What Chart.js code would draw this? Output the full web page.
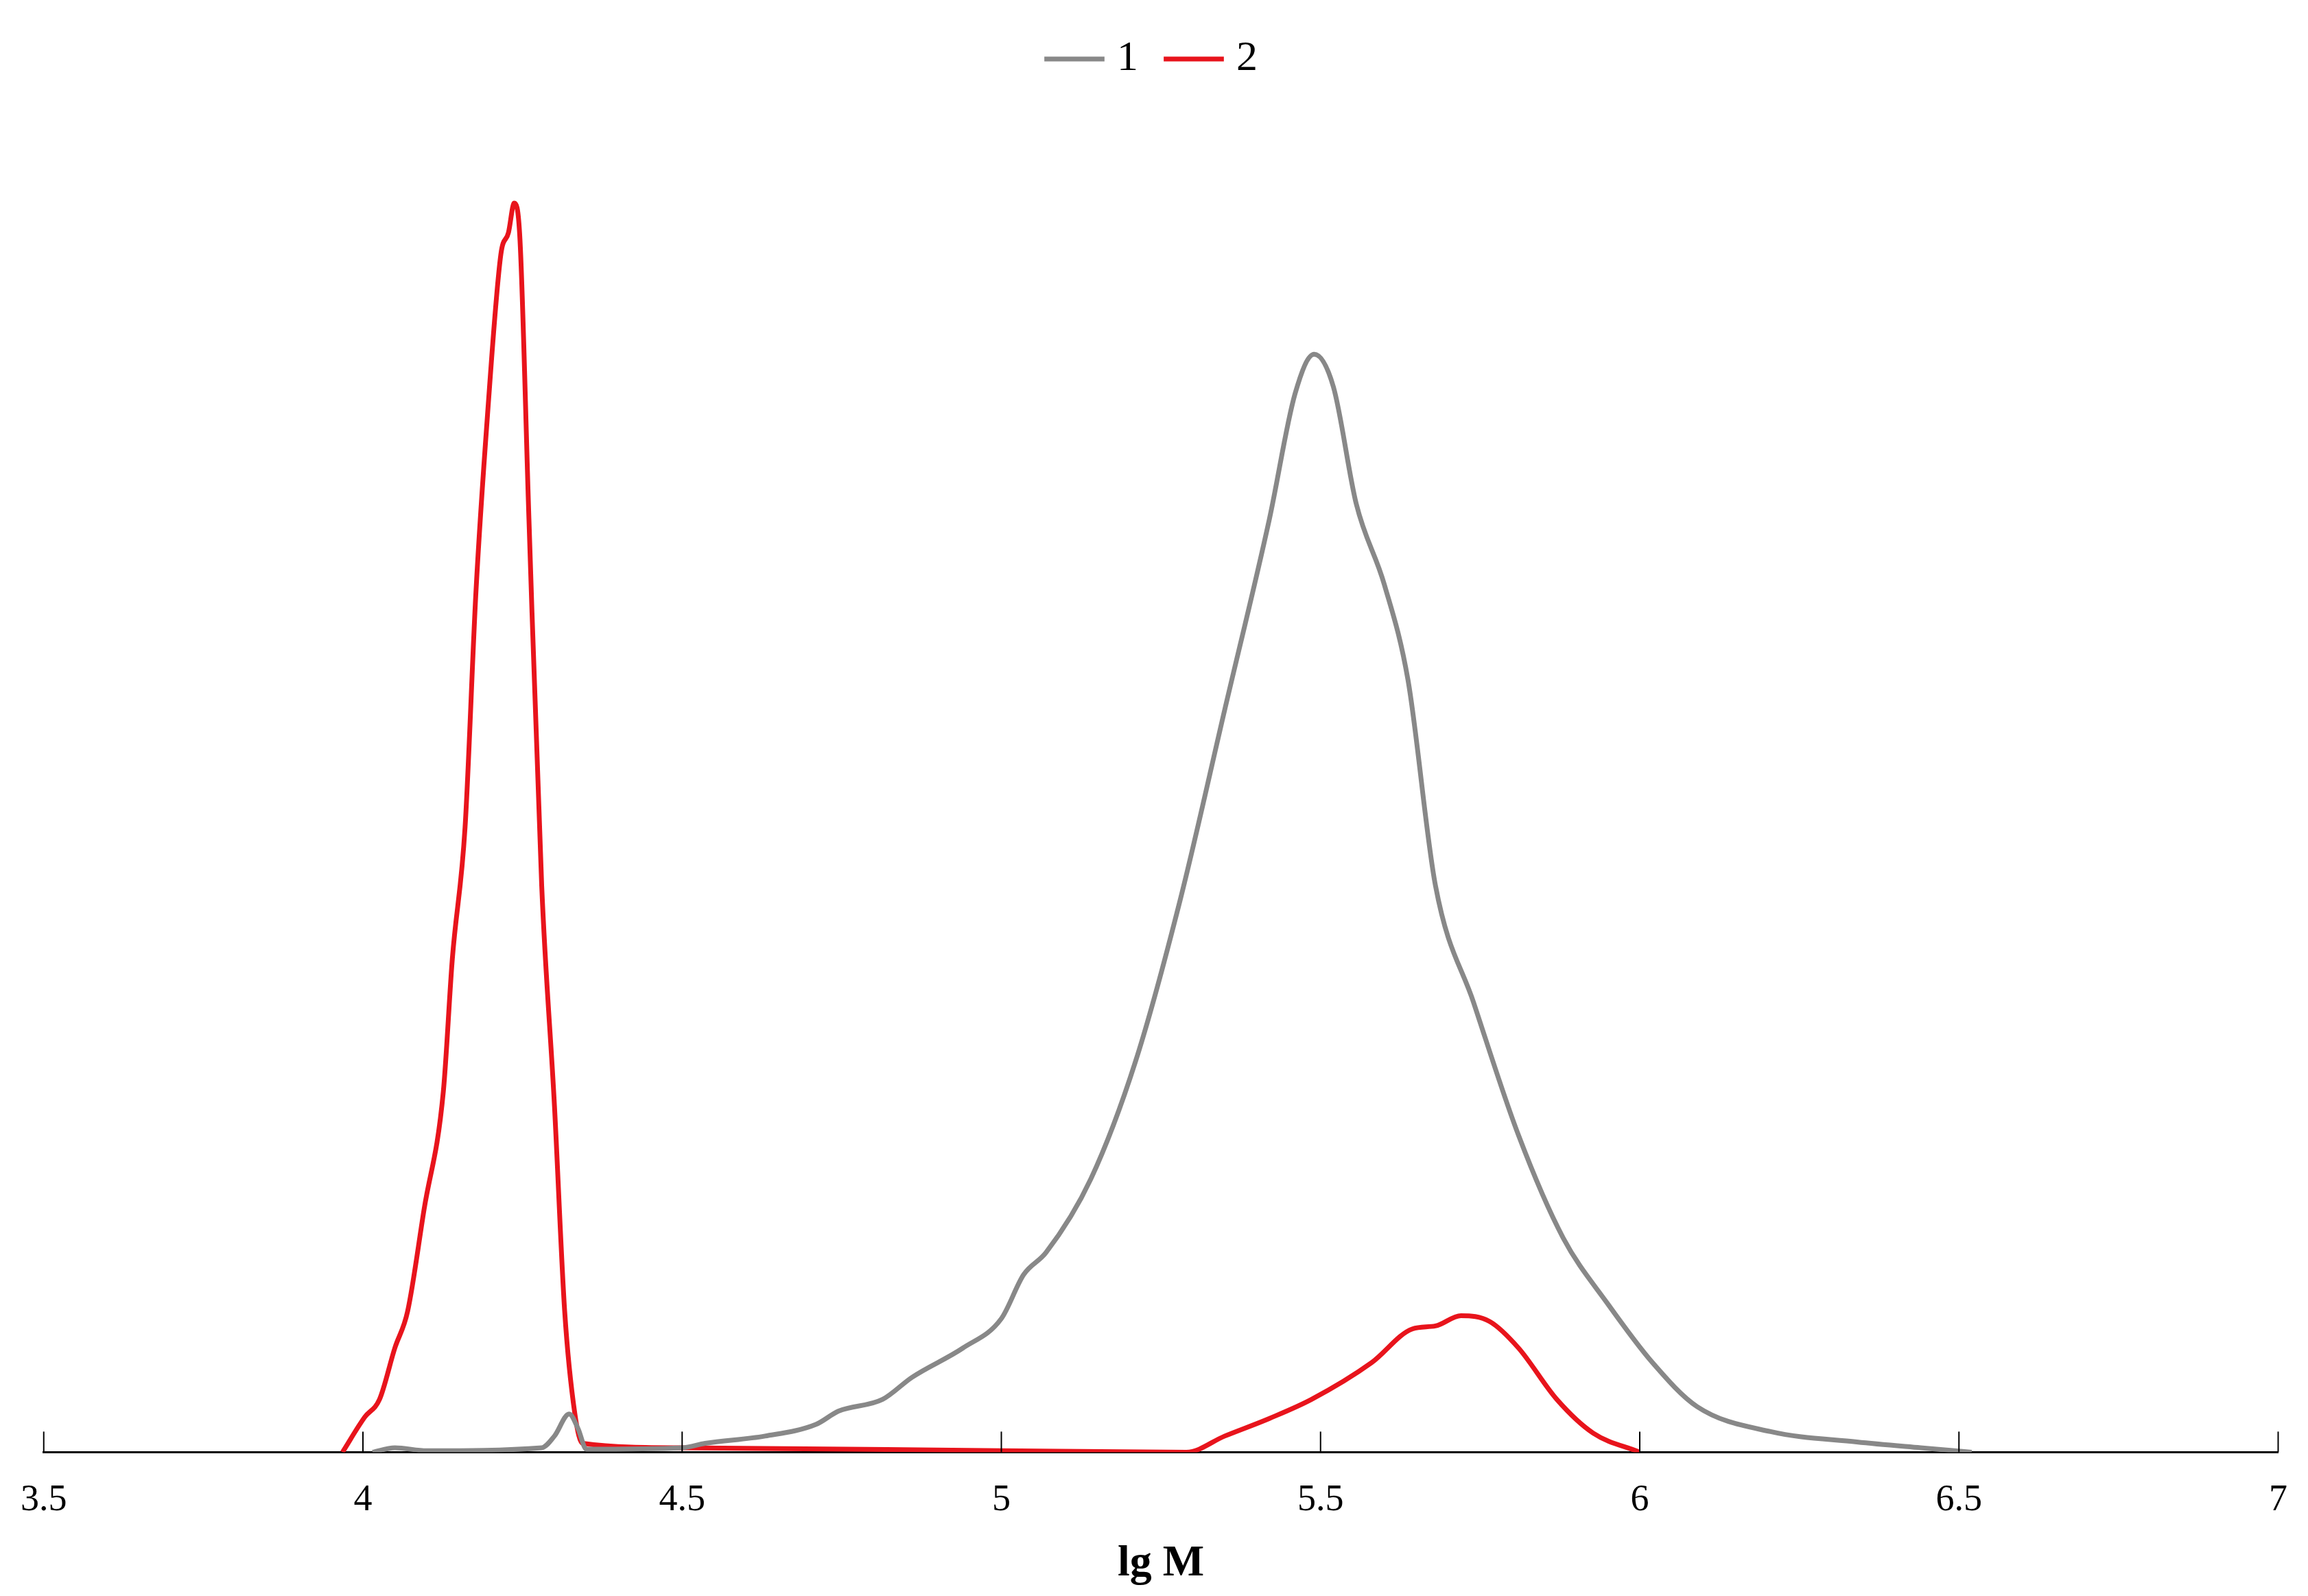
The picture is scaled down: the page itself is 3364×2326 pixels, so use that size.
<!DOCTYPE html>
<html>
<head>
<meta charset="utf-8">
<script src="https://cdn.jsdelivr.net/npm/chart.js@4"></script>
<style>
  html, body { margin: 0; padding: 0; background: #ffffff; }
  #wrap { width: 3364px; height: 2326px; }
</style>
</head>
<body>
<div id="wrap"><canvas id="chart" width="3364" height="2326"></canvas></div>
<script>
// lg M values and relative heights
const series1X = [4.015, 4.05, 4.1, 4.28, 4.30, 4.323, 4.337, 4.35, 4.5, 4.536, 4.63, 4.71, 4.745, 4.814, 4.86, 4.94, 5.0, 5.035, 5.07, 5.14, 5.21, 5.28, 5.35, 5.42, 5.46, 5.49, 5.52, 5.556, 5.60, 5.637, 5.68, 5.74, 5.81, 5.88, 5.95, 6.02, 6.09, 6.205, 6.34, 6.44, 6.52];
const series1Y = [0, 0.3, 0.1, 0.3, 1.1, 2.6, 1.6, 0.2, 0.3, 0.6, 1.1, 1.9, 2.8, 3.6, 5.1, 7.1, 9.1, 12.1, 13.6, 18.6, 26.6, 37.6, 50.6, 63.6, 72.1, 74.8, 72.6, 64.6, 59.1, 52.6, 38.6, 30.6, 21.6, 14.6, 10.1, 6.1, 3.1, 1.4, 0.7, 0.3, 0];
const series2X = [3.968, 4.003, 4.026, 4.05, 4.07, 4.096, 4.126, 4.14, 4.16, 4.177, 4.195, 4.216, 4.228, 4.237, 4.246, 4.26, 4.28, 4.30, 4.316, 4.332, 4.344, 4.5, 5.0, 5.29, 5.35, 5.42, 5.486, 5.58, 5.644, 5.68, 5.72, 5.765, 5.81, 5.87, 5.927, 6.0];
const series2Y = [0, 2.4, 3.6, 7.1, 9.6, 16.6, 24.6, 33.6, 42.6, 58.6, 70.6, 81.6, 83.1, 85.1, 82.6, 63.6, 38.6, 23.6, 9.6, 2.6, 0.6, 0.3, 0.1, 0, 1.1, 2.3, 3.6, 6.1, 8.4, 8.6, 9.3, 8.9, 7.1, 3.6, 1.3, 0];
const seriesNames = ['1', '2'];
const xTicks = [3.5, 4, 4.5, 5, 5.5, 6, 6.5, 7];

const toPoints = (xs, ys) => xs.map((x, i) => ({ x: x, y: ys[i] }));

// short tick marks pointing up from the axis line
const upTicks = {
	id: 'upTicks',
	afterDraw(chart)
	{
		const ctx = chart.ctx;
		const xs = chart.scales.x;
		const base = chart.chartArea.bottom;
		ctx.save();
		ctx.strokeStyle = '#000000';
		ctx.lineWidth = 2;
		xTicks.forEach(v => {
			const px = xs.getPixelForValue(v);
			ctx.beginPath();
			ctx.moveTo(px, base);
			ctx.lineTo(px, base - 30);
			ctx.stroke();
		});
		ctx.restore();
	}
};

new Chart(document.getElementById('chart'), {
	type: 'line',
	data: {
		datasets: [
			{ label: seriesNames[0], data: toPoints(series1X, series1Y), borderColor: '#888888', borderWidth: 7, pointRadius: 0, tension: 0.3, cubicInterpolationMode: 'monotone' },
			{ label: seriesNames[1], data: toPoints(series2X, series2Y), borderColor: '#e8141c', borderWidth: 7, pointRadius: 0, tension: 0.3, cubicInterpolationMode: 'monotone' }
		]
	},
	options: {
		responsive: false,
		animation: false,
		devicePixelRatio: 1,
		layout: { padding: { left: 40, right: 36, top: 5, bottom: 8 } },
		plugins: {
			legend: {
				position: 'top',
				labels: {
					usePointStyle: true,
					pointStyle: 'line',
					boxWidth: 70,
					padding: 50,
					color: '#000000',
					font: { family: 'Liberation Serif', size: 62 }
				}
			},
			tooltip: { enabled: false }
		},
		scales: {
			x: {
				type: 'linear',
				min: 3.5,
				max: 7,
				afterBuildTicks: axis => { axis.ticks = xTicks.map(v => ({ value: v })); },
				grid: { display: false },
				border: { display: true, color: '#000000', width: 3 },
				ticks: { color: '#000000', padding: 30, callback: v => String(v), font: { family: 'Liberation Serif', size: 54 } },
				title: { display: true, text: 'lg M', color: '#000000', padding: { top: -8, bottom: 0 }, font: { family: 'Liberation Serif', size: 64, weight: 'bold' } }
			},
			y: {
				display: false,
				min: 0,
				max: 93
			}
		}
	},
	plugins: [upTicks]
});
</script>
</body>
</html>
